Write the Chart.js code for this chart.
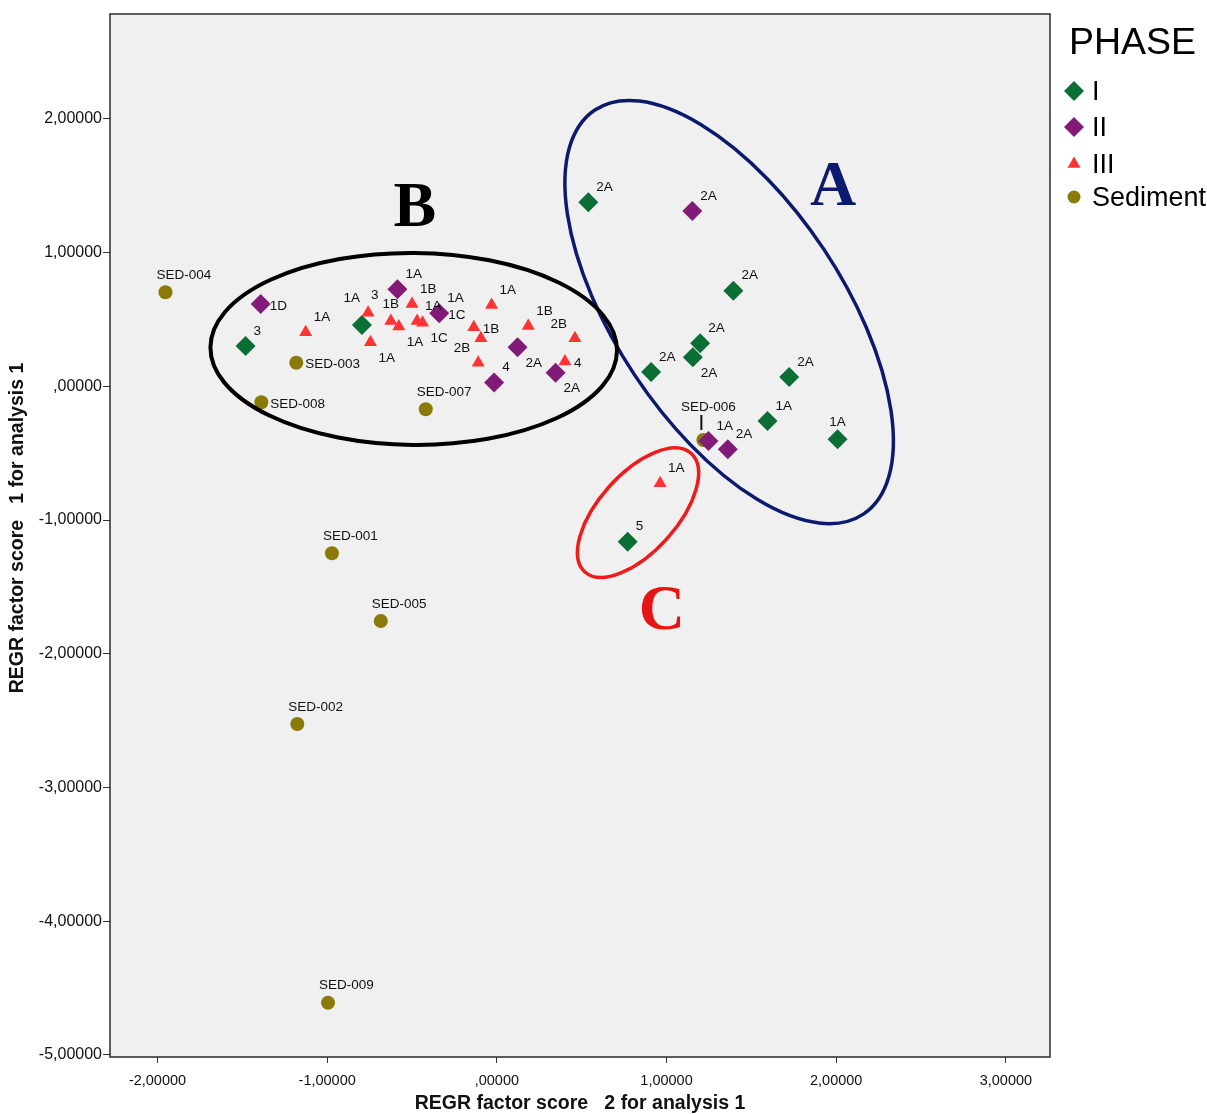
<!DOCTYPE html>
<html lang="en">
 <head>
  <meta charset="utf-8"/>
  <title>REGR factor scores by phase</title>
  <script src="https://cdn.jsdelivr.net/npm/chart.js"></script>
  <style>
   body {
      margin: 0;
      background: #fff;
      font-family: "Liberation Sans", Arial, sans-serif;
    }
    canvas {
      display: block;
    }
  </style>
 </head>
 <body>
  <canvas id="grafik" width="1207" height="1114"></canvas>
  <script>
    // ---- data ----
    const phaseNames = ["I", "II", "III", "Sediment"];

    const phase1X = [-1.481, -0.795, 0.539, 1.394, 1.198, 1.155, 0.909, 1.723, 1.595, 2.008, 0.771];
    const phase1Y = [0.302, 0.459, 1.377, 0.716, 0.322, 0.218, 0.108, 0.070, -0.259, -0.396, -1.162];
    const phase1Labels = ["3", "3", "2A", "2A", "2A", "2A", "2A", "2A", "1A", "1A", "5"];

    const phase2X = [-1.392, -0.586, -0.340, 0.122, 0.346, -0.016, 1.152, 1.247, 1.361];
    const phase2Y = [0.616, 0.726, 0.547, 0.292, 0.102, 0.028, 1.312, -0.408, -0.470];
    const phase2Labels = ["1D", "1A", "1A", "2A", "2A", "4", "2A", "1A", "2A"];

    const phase3X = [-1.127, -0.759, -0.745, -0.625, -0.578, -0.500, -0.470, -0.438, -0.031, -0.136, -0.094, -0.110, 0.185, 0.460, 0.401, 0.962, -0.340];
    const phase3Y = [0.405, 0.551, 0.330, 0.489, 0.447, 0.616, 0.489, 0.476, 0.609, 0.442, 0.360, 0.177, 0.452, 0.360, 0.185, -0.725, 0.547];
    const phase3Labels = ["1A", "1A", "1A", "1B", "1A", "1B", "1A", "1C", "1A", "1B", "", "2B", "1B", "2B", "4", "1A", "1C"];

    const sedX = [-1.953, -1.182, -1.388, -0.419, 1.217, -0.972, -0.684, -1.176, -0.995];
    const sedY = [0.704, 0.177, -0.119, -0.171, -0.401, -1.248, -1.755, -2.525, -4.610];
    const sedLabels = ["SED-004", "SED-003", "SED-008", "SED-007", "SED-006", "SED-001", "SED-005", "SED-002", "SED-009"];

    const xTicks = [-2, -1, 0, 1, 2, 3];
    const yTicks = [2, 1, 0, -1, -2, -3, -4, -5];

    // where each point label sits relative to its marker
    const phase1Sides = ["ur", "uur", "ur", "ur", "ur", "lr", "ur", "ur", "ur", "u", "ur"];
    const phase2Sides = ["r", "ur", "ur", "lr", "lr", "ur", "ur", "ur", "ur"];
    const phase3Sides = ["ur", "ul", "lr", "u", "lr", "ur", "ur", "lr", "ur", "r", "", "ul", "ur", "ul", "r", "ur", "r"];
    const sedSides = ["sed", "r", "r", "sed", "lead", "sed", "sed", "sed", "sed"];

    const colours = ["#0b6e35", "#821a77", "#ff3333", "#8a7a08"];

    // spss style number: 2,00000  ,00000  -1,00000
    function fmt(v) {
      let s = Math.abs(v).toFixed(5).replace(".", ",");
      if (s.startsWith("0")) s = s.slice(1);
      return (v < 0 ? "-" : "") + s;
    }

    function pts(xs, ys) {
      return xs.map((x, i) => ({ x: x, y: ys[i] }));
    }

    const overlay = {
      id: "overlay",
      beforeDraw(chart) {
        const a = chart.chartArea, ctx = chart.ctx;
        ctx.save();
        ctx.fillStyle = "#f0f0f0";
        ctx.fillRect(a.left, a.top, a.right - a.left, a.bottom - a.top);
        ctx.restore();
      },
      afterDatasetsDraw(chart) {
        const ctx = chart.ctx, a = chart.chartArea;
        const xs = chart.scales.x, ys = chart.scales.y;
        ctx.save();

        // point labels
        ctx.font = '13.5px "Liberation Sans", Arial, sans-serif';
        ctx.fillStyle = "#111";
        ctx.textAlign = "center";
        ctx.textBaseline = "middle";
        chart.data.datasets.forEach((ds, i) => {
          const meta = chart.getDatasetMeta(i);
          meta.data.forEach((el, j) => {
            const txt = ds.pointLabels[j];
            if (!txt) return;
            const w = ctx.measureText(txt).width;
            const x = el.x, y = el.y;
            let cx = x + 8 + w / 2, cy = y - 15;
            switch (ds.labelSides[j]) {
              case "ul": cx = x - 8 - w / 2; cy = y - 14; break;
              case "lr": cy = y + 16; break;
              case "r": cx = x + 9 + w / 2; cy = y + 2; break;
              case "u": cx = x; cy = y - 17; break;
              case "uur": cx = x + 9 + w / 2; cy = y - 30; break;
              case "sed": cx = x - 9 + w / 2; cy = y - 17; break;
              case "lead":
                cx = x + 5; cy = y - 33;
                ctx.fillRect(x - 3, y - 25, 2, 15);
                break;
            }
            ctx.fillText(txt, cx, cy);
          });
        });

        // hand drawn group ellipses
        function ell(dx, dy, rx, ry, deg, colour, lw) {
          ctx.beginPath();
          ctx.ellipse(xs.getPixelForValue(dx), ys.getPixelForValue(dy), rx, ry, deg * Math.PI / 180, 0, 2 * Math.PI);
          ctx.strokeStyle = colour;
          ctx.lineWidth = lw;
          ctx.stroke();
        }
        ell(1.369, 0.556, 242.6, 113.6, 56.4, "#0b1a6e", 3.5);
        ell(-0.490, 0.280, 203.3, 96, 0.5, "#000", 4);
        ell(0.832, -0.945, 79.6, 38.9, -48.1, "#f01a1a", 3.5);

        // group letters
        ctx.font = 'bold 64px "Liberation Serif", "Times New Roman", serif';
        ctx.textBaseline = "alphabetic";
        [["A", 1.982, 1.514, "#0b1a6e"], ["B", -0.484, 1.357, "#000"], ["C", 0.973, -1.657, "#e81414"]].forEach(l => {
          ctx.fillStyle = l[3];
          ctx.fillText(l[0], xs.getPixelForValue(l[1]), ys.getPixelForValue(l[2]) + 21);
        });

        // frame of the plot
        ctx.strokeStyle = "#2a2a2a";
        ctx.lineWidth = 1.5;
        ctx.strokeRect(a.left, a.top, a.right - a.left, a.bottom - a.top);
        ctx.restore();
      },
      afterDraw(chart) {
        const ctx = chart.ctx;
        ctx.save();
        ctx.fillStyle = "#111";
        ctx.textAlign = "center";
        ctx.textBaseline = "middle";
        ctx.font = 'bold 19.5px "Liberation Sans", Arial, sans-serif';
        ctx.fillText("REGR factor score   2 for analysis 1", 580, 1104);
        ctx.translate(18, 528);
        ctx.rotate(-Math.PI / 2);
        ctx.fillText("REGR factor score   1 for analysis 1", 0, 0);
        ctx.restore();

        // legend
        ctx.save();
        ctx.fillStyle = "#000";
        ctx.textAlign = "left";
        ctx.textBaseline = "alphabetic";
        ctx.font = '37.5px "Liberation Sans", Arial, sans-serif';
        ctx.fillText("PHASE", 1069, 54);
        const styles = ["rectRot", "rectRot", "triangle", "circle"];
        const radii = [10, 10, 7.5, 6.5];
        const rows = [91, 127, 164, 197];
        ctx.font = '27px "Liberation Sans", Arial, sans-serif';
        ctx.textBaseline = "middle";
        phaseNames.forEach((name, i) => {
          ctx.fillStyle = colours[i];
          Chart.helpers.drawPoint(ctx, { pointStyle: styles[i], radius: radii[i], rotation: 0, borderWidth: 0 }, 1074, rows[i]);
          ctx.fillStyle = "#000";
          ctx.fillText(name, 1092, rows[i] + 2);
        });
        ctx.restore();
      }
    };

    new Chart(document.getElementById("grafik"), {
      type: "scatter",
      data: {
        datasets: [
          { label: phaseNames[0], data: pts(phase1X, phase1Y), pointLabels: phase1Labels, labelSides: phase1Sides,
            pointStyle: "rectRot", pointRadius: 10, backgroundColor: colours[0], borderColor: colours[0], borderWidth: 0, order: 3 },
          { label: phaseNames[1], data: pts(phase2X, phase2Y), pointLabels: phase2Labels, labelSides: phase2Sides,
            pointStyle: "rectRot", pointRadius: 10, backgroundColor: colours[1], borderColor: colours[1], borderWidth: 0, order: 1 },
          { label: phaseNames[2], data: pts(phase3X, phase3Y), pointLabels: phase3Labels, labelSides: phase3Sides,
            pointStyle: "triangle", pointRadius: 7.5, backgroundColor: colours[2], borderColor: colours[2], borderWidth: 0, order: 2 },
          { label: phaseNames[3], data: pts(sedX, sedY), pointLabels: sedLabels, labelSides: sedSides,
            pointStyle: "circle", pointRadius: 7, backgroundColor: colours[3], borderColor: colours[3], borderWidth: 0, order: 4 }
        ]
      },
      options: {
        responsive: false,
        animation: false,
        devicePixelRatio: 1,
        layout: { padding: { left: 0, top: 14, right: 157, bottom: 0 } },
        plugins: { legend: { display: false }, tooltip: { enabled: false } },
        scales: {
          x: {
            type: "linear",
            min: -2.28,
            max: 3.26,
            afterFit: s => { s.height = 57; },
            afterBuildTicks: s => { s.ticks = xTicks.map(v => ({ value: v })); },
            grid: { drawOnChartArea: false, tickLength: 6, color: "#333" },
            border: { display: false },
            ticks: { callback: v => fmt(v), color: "#111", padding: 9, maxRotation: 0,
                     font: { family: "Liberation Sans", size: 14.5 } }
          },
          y: {
            type: "linear",
            min: -5.016,
            max: 2.785,
            afterFit: s => { s.width = 110; },
            afterBuildTicks: s => { s.ticks = yTicks.map(v => ({ value: v })); },
            grid: { drawOnChartArea: false, tickLength: 7, color: "#333" },
            border: { display: false },
            ticks: { callback: v => fmt(v), color: "#111", padding: 1,
                     font: { family: "Liberation Sans", size: 16 } }
          }
        }
      },
      plugins: [overlay]
    });
  </script>
 </body>
</html>
